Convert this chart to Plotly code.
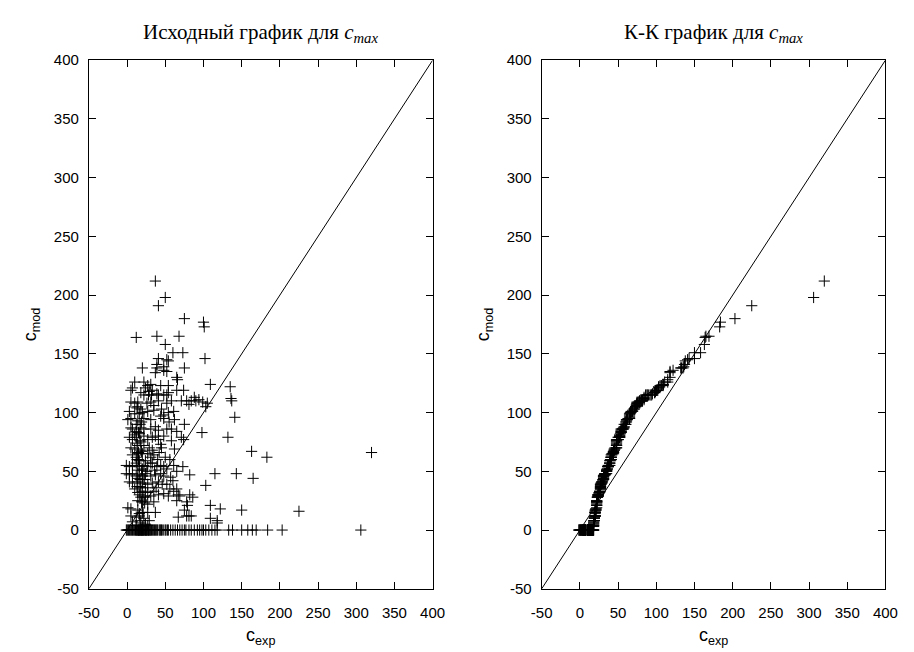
import numpy as np
import plotly.graph_objects as go

# ---- data (cexp, cmod) ----
scatter_points = [
    (37,212),(50,198),(41,191),(75,180),(100,177),(101,173),(12,164),(39,165),(50,158),(68,165),
    (60,151),(73,151),(102,146),(41,146),(52,145),(54,144),(39,141),(48,139),(20,138),(75,138),
    (37,134),(48,136),(52,135),(39,138),
    (65,130),(66,128),(10,126),(22,126),(27,123),(31,124),(5,119),(18,117),(22,115),(29,118),
    (44,123),(54,123),(33,119),(39,116),(48,115),(54,117),(65,119),(74,119),(109,124),(135,122),
    (136,112),(137,110),(5,109),(10,108),(14,109),(31,109),(35,106),(41,110),(52,108),(58,110),
    (71,110),(78,110),(84,110),(90,110),(99,109),(103,105),(3,101),(10,99),(16,99),(27,101),
    (35,102),(48,98),(54,100),(61,101),(141,96),(1,94),(5,95),(14,93),(22,95),(31,94),
    (44,97),(48,95),(75,90),(5,87),(7,86),(12,84),(18,87),(22,86),(31,86),(37,88),
    (41,85),(52,86),(58,86),(65,84),(71,79),(74,77),(98,83),(132,79),(3,79),(7,77),
    (12,79),(22,80),(27,77),(33,79),(37,80),(41,77),(5,70),(10,69),(14,72),(22,72),
    (29,70),(33,68),(44,73),(50,62),(163,67),(7,64),(12,62),(14,65),(20,65),(27,65),
    (31,62),(35,64),(-1,55),(3,54),(7,55),(12,57),(16,54),(22,55),(27,54),(31,57),
    (39,54),(44,55),(48,54),(52,52),(61,55),(73,54),(65,50),(82,47),(115,48),(143,48),
    (-1,48),(3,47),(7,48),(12,46),(16,47),(20,46),(24,48),(31,46),(37,47),(44,48),
    (48,46),(3,41),(7,40),(14,41),(20,40),(27,39),(33,40),(41,41),(52,39),(56,35),
    (61,33),(65,35),(103,38),(10,35),(14,32),(20,33),(27,32),(31,29),(35,33),(41,30),
    (48,31),(54,29),(67,30),(69,29),(82,30),(86,28),(14,25),(20,24),(27,22),(35,24),
    (65,25),(78,24),(109,21),(122,18),(150,17),(1,19),(5,18),(14,17),(20,15),(27,15),
    (37,15),(75,17),(5,12),(12,11),(22,10),(29,8),(67,11),(78,12),(84,12),(7,7),
    (18,6),(27,4),(109,10),(118,8),(118,6),(225,16),(320,66),(183,62),(165,44),
    (81,107),(94,111),(105,108),(79,21),(81,12),(88,113),(7,121),(24,121),
    (28,115),(32,115),(41,115),(52,115),
    (14,105),(18,103),(13,104),(12,90),(19,92),(17,90),(15,83),(10,81),(16,82),(13,74),
    (18,75),(17,76),(15,66),(19,67),(18,68),(13,60),(16,59),(15,60),(24,59),(14,51),
    (20,52),(19,51),(26,50),(14,44),(21,43),(17,43),(23,43),(13,37),(18,36),(17,37),
    (24,36),(16,30),(22,29),(18,28),(24,28),(19,24),(23,23),(16,14),(21,15),(16,12),
    (24,5),(12,4),(20,3),(17,8),(33,57),(36,51),(40,60),(42,66),(45,70),(56,60),
    (57,45),(60,42),(46,39),(38,36),(58,76),(62,69),(48,80),(55,92),(62,94),(45,103),
    (26,108),(20,100),
]
# points lying on cmod = 0
zero_row_cexp = [
    -1,0,1,2,3,4,5,6,7,8,9,10,11,12,13,14,15,17,19,21,23,25,27,29,31,33,35,38,40,43,
    46,48,51,54,57,60,63,66,69,72,75,77,81,84,88,92,95,98,100,103,107,111,115,118,
    133,138,150,158,164,169,184,203,306,
    16,18,20,22,24,26,28,30,32,34,36,37,39,42,44,45,50,53,
    12,14,15,16,17,18,19,20,21,22,24,25,26,28,30,
]
diag = [-50, 400]
tick_vals = [-50, 0, 50, 100, 150, 200, 250, 300, 350, 400]

cexp = np.array([p[0] for p in scatter_points] + zero_row_cexp, dtype=float)
cmod = np.array([p[1] for p in scatter_points] + [0] * len(zero_row_cexp), dtype=float)

# Q-Q plot: sorted samples against each other
qq_x = np.sort(cexp)
qq_y = np.sort(cmod)

W, H = 914, 652
marker = dict(symbol="cross-thin", size=8, color="black", line=dict(color="black", width=1))

fig = go.Figure()
fig.add_trace(go.Scatter(x=cexp, y=cmod, mode="markers", marker=marker, xaxis="x", yaxis="y",
                         showlegend=False, hoverinfo="skip"))
fig.add_trace(go.Scatter(x=diag, y=diag, mode="lines", line=dict(color="black", width=1),
                         xaxis="x", yaxis="y", showlegend=False, hoverinfo="skip"))
fig.add_trace(go.Scatter(x=qq_x, y=qq_y, mode="markers", marker=marker, xaxis="x2", yaxis="y2",
                         showlegend=False, hoverinfo="skip"))
fig.add_trace(go.Scatter(x=diag, y=diag, mode="lines", line=dict(color="black", width=1),
                         xaxis="x2", yaxis="y2", showlegend=False, hoverinfo="skip"))

tickfont = dict(family="Liberation Sans, Arial, sans-serif", size=15, color="black")
titlefont = dict(family="Liberation Sans, Arial, sans-serif", size=18, color="black")

def ax(domain, anchor, title, is_x):
    d = dict(domain=domain, anchor=anchor, range=[-50, 400], tickmode="array",
             tickvals=tick_vals, ticktext=[str(v) for v in tick_vals],
             ticks="inside", ticklen=7, tickwidth=1, tickcolor="black",
             showline=True, linecolor="black", linewidth=1, mirror="ticks",
             showgrid=False, zeroline=False, tickfont=tickfont)
    if is_x:
        d["ticklabelstandoff"] = 10
        d["title"] = dict(text=title, font=titlefont, standoff=8)
    else:
        d["ticklabelstandoff"] = 6
        d["title"] = dict(text=title, font=titlefont, standoff=12)
    return d

xl = [80 / W, 433 / W]
xr = [545 / W, 898 / W]
yd = [1 - 595.3 / H, 1 - 52.6 / H]

title_font = dict(family="Liberation Serif, DejaVu Serif, serif", size=21, color="black")

fig.update_layout(
    width=W, height=H, margin=dict(l=0, r=0, t=0, b=0),
    paper_bgcolor="white", plot_bgcolor="white",
    xaxis=ax(xl, "y", "c<sub>exp</sub>", True),
    yaxis=ax(yd, "x", "c<sub>mod</sub>", False),
    xaxis2=ax(xr, "y2", "c<sub>exp</sub>", True),
    yaxis2=ax(yd, "x2", "c<sub>mod</sub>", False),
    annotations=[
        dict(text="Исходный график для <i>c</i><sub><i>max</i></sub>", x=sum(xl) / 2, y=1 - 25 / H,
             xref="paper", yref="paper", showarrow=False, xanchor="center", yanchor="middle",
             font=title_font),
        dict(text="К-К график для <i>c</i><sub><i>max</i></sub>", x=sum(xr) / 2, y=1 - 25 / H,
             xref="paper", yref="paper", showarrow=False, xanchor="center", yanchor="middle",
             font=title_font),
    ],
)

fig.write_html("out.html")
